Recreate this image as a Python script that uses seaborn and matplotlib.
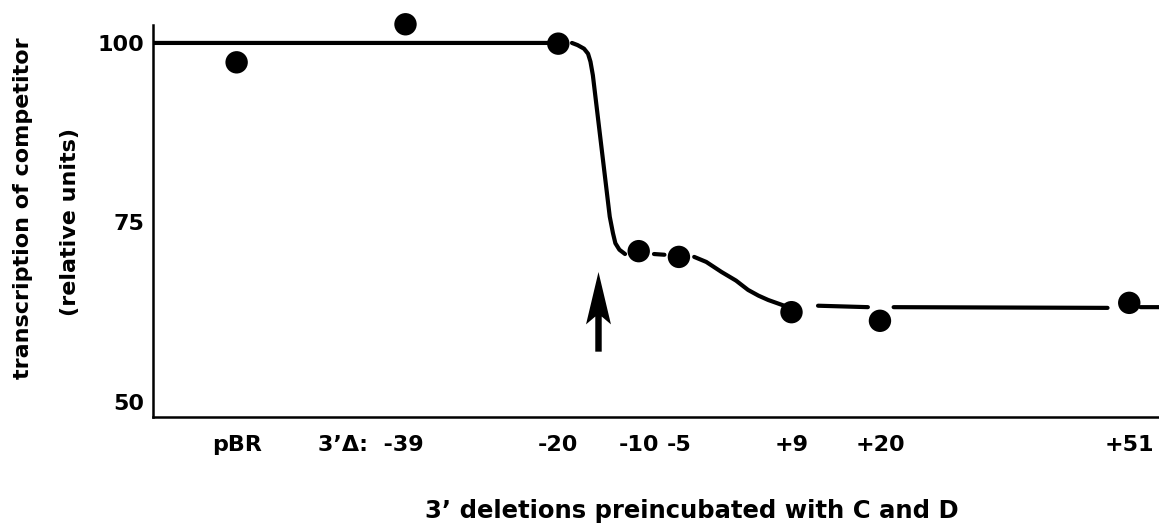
import numpy as np
import matplotlib
matplotlib.use('Agg')
import matplotlib.pyplot as plt
import matplotlib.transforms as mtransforms
import seaborn as sns

#######################################################################################################################
# DATA #
#######################################################################################################################

Construct_Labels = ['pBR', '3\u2019\u0394:  -39', '-20', '-10', '-5', '+9', '+20', '+51']
Construct_Pos = [-60, -39, -20, -10, -5, 9, 20, 51]
Transcription = [97.3, 102.6, 99.9, 71.0, 70.2, 62.5, 61.3, 63.8]

# hand drawn fit through the points, nan = pen lifted
Curve_X = [-70.4, -20.0, np.nan,
           -18.3, -17.6, -16.8, -16.3, -16.0, -15.7, -13.6, -13.2, -12.9, -12.4, -11.7, np.nan,
           -8.1, -6.8, np.nan,
           -3.1, -1.6, 0.3, 2.1, 3.6, 4.9, 6.1, 8.1, np.nan,
           12.3, 18.5, np.nan,
           21.7, 48.3, np.nan,
           52.4, 55.5]
Curve_Y = [100.0, 100.0, np.nan,
           100.0, 99.7, 99.2, 98.5, 97.4, 95.5, 75.8, 73.5, 72.1, 71.2, 70.6, np.nan,
           70.6, 70.5, np.nan,
           70.2, 69.5, 68.1, 66.9, 65.6, 64.8, 64.2, 63.4, np.nan,
           63.4, 63.2, np.nan,
           63.2, 63.1, np.nan,
           63.2, 63.2]

Arrow_X = -15.0
Arrow_Y = (57.0, 68.1)

Y_Ticks = [50, 75, 100]

#######################################################################################################################
# PLOT #
#######################################################################################################################

sns.set_style('white')
plt.rcParams['font.family'] = ['DejaVu Sans']
plt.rcParams['font.weight'] = 'bold'
plt.rcParams['text.color'] = 'black'
plt.rcParams['xtick.color'] = 'black'
plt.rcParams['ytick.color'] = 'black'

Figure = plt.figure(figsize=(11.59, 5.25), dpi=100)
Axis = Figure.add_axes([0.132, 0.2057, 0.868, 0.7467])

Axis.plot(Curve_X, Curve_Y, color='black', lw=3.0, solid_capstyle='round', solid_joinstyle='round')
sns.scatterplot(x=Construct_Pos, y=Transcription, s=260, color='black', edgecolor='none',
                ax=Axis, clip_on=False, zorder=3)

Axis.arrow(Arrow_X, Arrow_Y[0], 0, Arrow_Y[1] - Arrow_Y[0], width=0.8, head_width=3.1, head_length=7.3,
           overhang=0.15, length_includes_head=True, color='black', lw=0)

Axis.set_xlim(-70.4, 54.7)
Axis.set_ylim(47.9, 102.5)

Axis.set_xticks(Construct_Pos)
Axis.set_xticklabels(Construct_Labels)
Axis.set_yticks(Y_Ticks)
Axis.set_yticklabels([str(v) for v in Y_Ticks])

Axis.tick_params(axis='x', direction='in', length=5, width=1.2, pad=13, labelsize=16)
Axis.tick_params(axis='y', direction='in', length=6, width=1.6, pad=6, labelsize=16)

for Side in ['top', 'right']:
    Axis.spines[Side].set_visible(False)
for Side in ['left', 'bottom']:
    Axis.spines[Side].set_linewidth(1.8)
    Axis.spines[Side].set_color('black')

# "3'Δ:" sits left of the -39 tick
Label = Axis.get_xticklabels()[1]
Label.set_horizontalalignment('right')
Label.set_transform(Label.get_transform() + mtransforms.ScaledTranslation(0.18, 0, Figure.dpi_scale_trans))

Figure.text(23 / 1159, 1 - 208 / 525, 'transcription of competitor', rotation=90,
            ha='center', va='center', fontsize=16, fontweight='bold')
Figure.text(70 / 1159, 1 - 222 / 525, '(relative units)', rotation=90,
            ha='center', va='center', fontsize=16, fontweight='bold')
Figure.text(692 / 1159, 1 - 511 / 525, '3\u2019 deletions preincubated with C and D',
            ha='center', va='center', fontsize=17.5, fontweight='bold')

Figure.savefig('out.png', dpi=100)
